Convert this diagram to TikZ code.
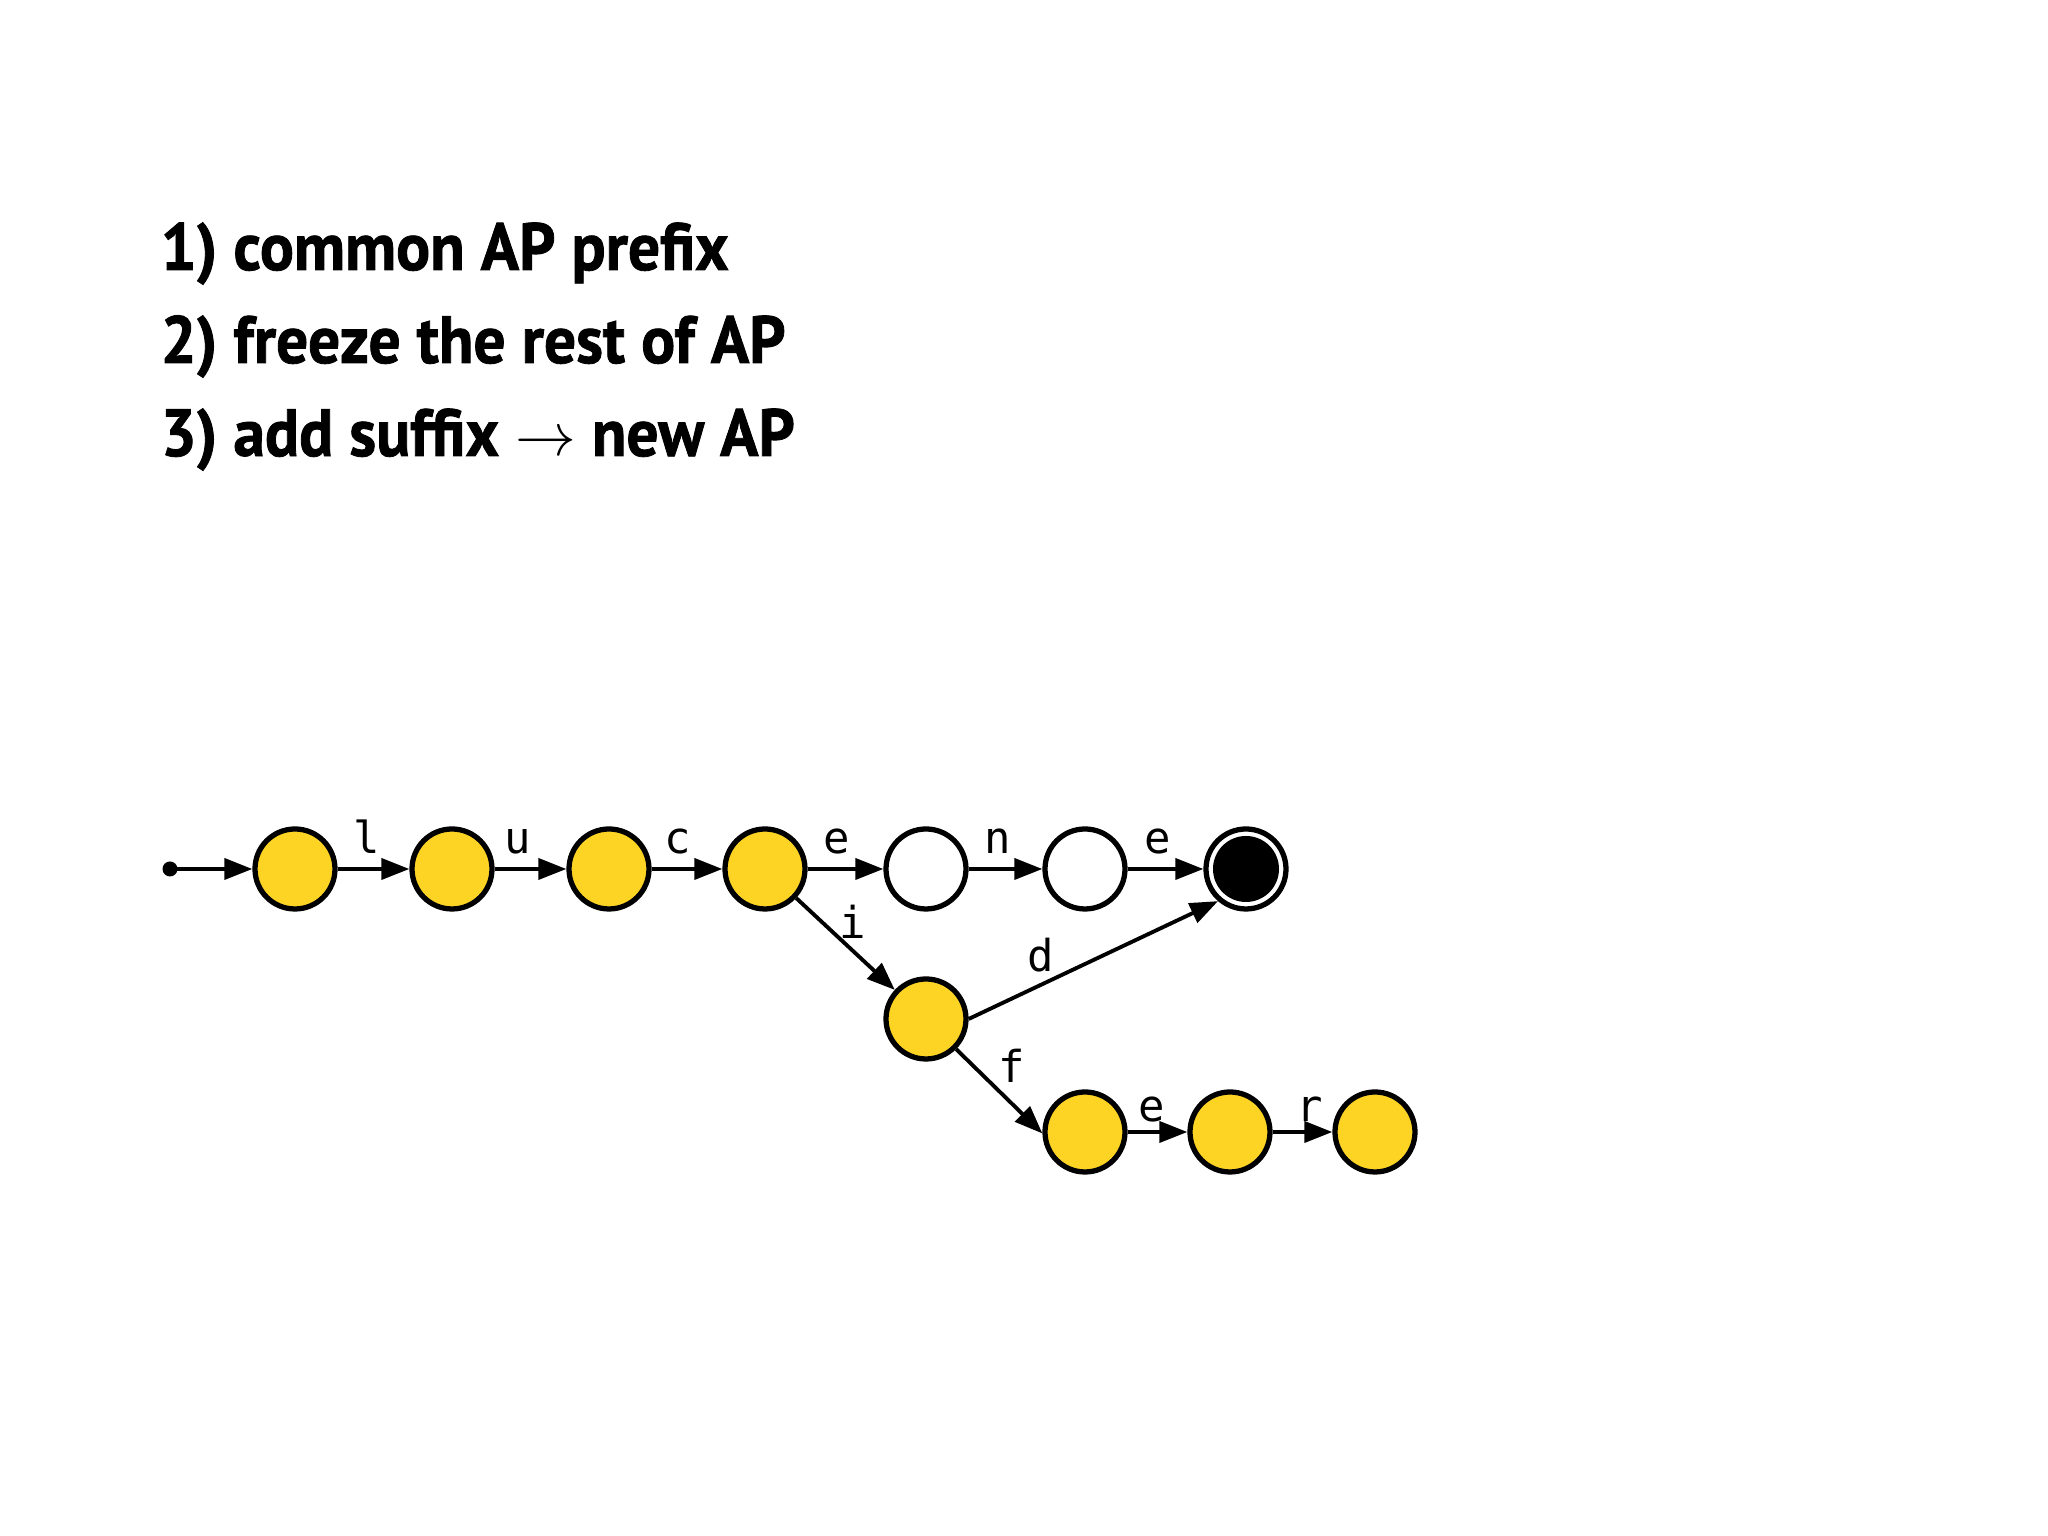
\documentclass[tikz,border=0pt]{standalone}
\usepackage{fontspec}
\setmainfont{PT Sans}[BoldFeatures={FakeStretch=0.95,FakeBold=1.2}]
\newfontfamily\monofont{DejaVu Sans Mono}
\usetikzlibrary{positioning,arrows.meta,calc}
\definecolor{stateyellow}{RGB}{254,212,36}

\begin{document}
\begin{tikzpicture}[
state/.style={circle,draw,line width=1.5pt,minimum size=8.0mm,inner sep=0pt,fill=stateyellow},
frozen/.style={state,fill=white},
edge/.style={-{Triangle[length=2.8mm,width=2.1mm]},line width=1.1pt},
lbl/.style={anchor=base,inner sep=0pt,font=\monofont\fontsize{12.5}{14}\selectfont},
stepline/.style={anchor=base west,inner sep=0pt,font=\bfseries\fontsize{19}{22}\selectfont},
scale=1.0
]
\useasboundingbox (0,0) rectangle (20.48,15.36);

\node[stepline] (t1) at (1.60,12.66) {1) common AP prefix};
\node[stepline] (t2) at (1.60,11.73) {2) freeze the rest of AP};
\node[stepline] (t3) at (1.60,10.80) {3) add suffix $\rightarrow$ new AP};

\fill (1.70,6.67) circle (0.75mm) coordinate (s0);
\node[state] (s1) at (2.95,6.67) {};
\node[state] (s2) at (4.52,6.67) {};
\node[state] (s3) at (6.09,6.67) {};
\node[state] (s4) at (7.65,6.67) {};
\node[frozen] (s5) at (9.26,6.67) {};
\node[frozen] (s6) at (10.85,6.67) {};
\node[frozen] (s7) at (12.46,6.67) {};
\fill (s7.center) circle (3.3mm);
\node[state] (s8) at (9.26,5.17) {};
\node[state] (s9) at (10.85,4.04) {};
\node[state] (s10) at (12.30,4.04) {};
\node[state] (s11) at (13.75,4.04) {};

\draw[edge] (s0) -- (s1);
\draw[edge] (s1) -- (s2);
\draw[edge] (s2) -- (s3);
\draw[edge] (s3) -- (s4);
\draw[edge] (s4) -- (s5);
\draw[edge] (s5) -- (s6);
\draw[edge] (s6) -- (s7);
\draw[edge] (s4) -- (s8);
\draw[edge] (s8.0) -- (s7.229);
\draw[edge] (s8.-45) -- (s9.182);
\draw[edge] (s9) -- (s10);
\draw[edge] (s10) -- (s11);

\node[lbl] (l1) at (3.67,6.82) {l};
\node[lbl] (l2) at (5.18,6.82) {u};
\node[lbl] (l3) at (6.78,6.82) {c};
\node[lbl] (l4) at (8.37,6.82) {e};
\node[lbl] (l5) at (9.98,6.82) {n};
\node[lbl] (l6) at (11.58,6.82) {e};
\node[lbl] (l7) at (8.53,5.97) {i};
\node[lbl] (l8) at (10.41,5.64) {d};
\node[lbl] (l9) at (10.12,4.53) {f};
\node[lbl] (l10) at (11.52,4.14) {e};
\node[lbl] (l11) at (13.10,4.14) {r};
\end{tikzpicture}
\end{document}
